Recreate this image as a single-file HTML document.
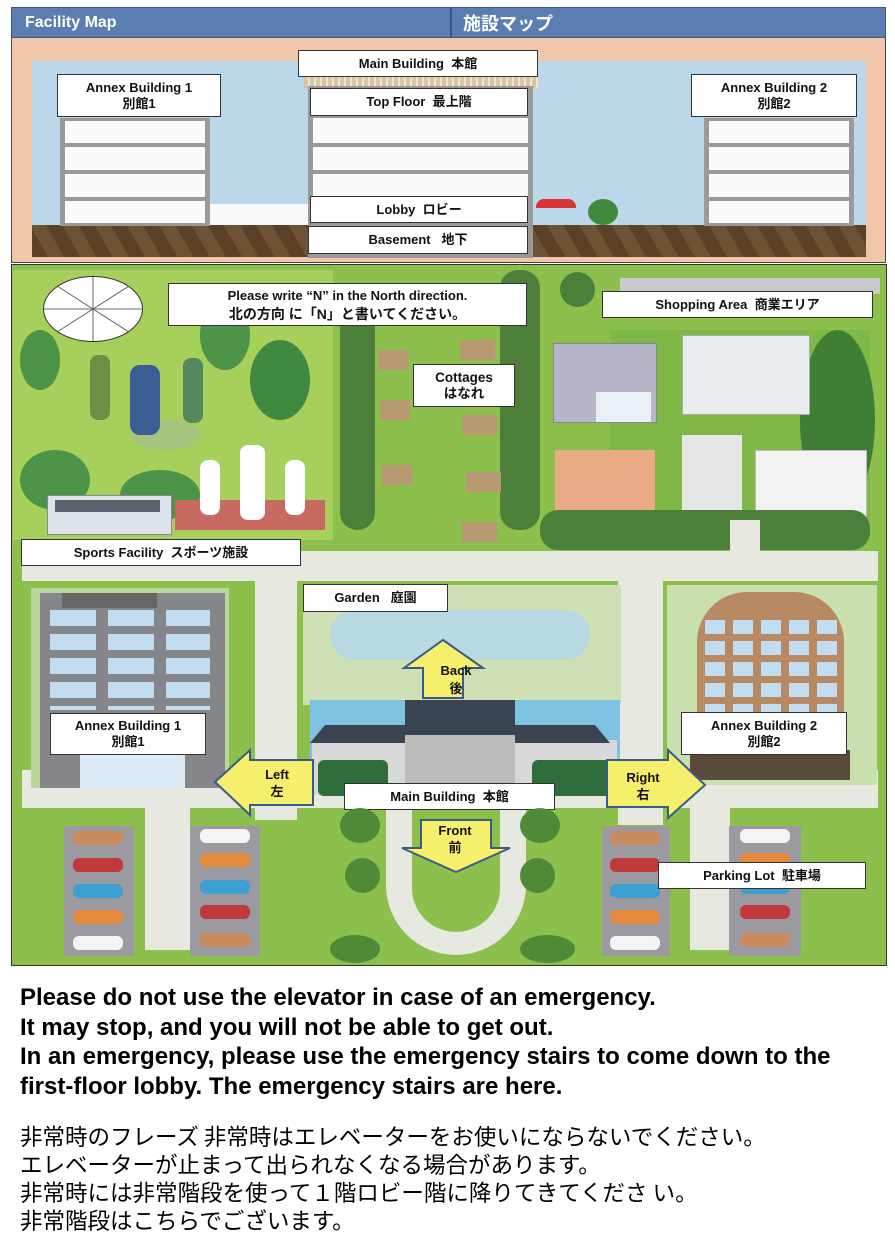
<!DOCTYPE html>
<html><head><meta charset="utf-8"><style>
*{margin:0;padding:0;box-sizing:border-box}
body{width:895px;height:1248px;background:#fff;position:relative;overflow:hidden;font-family:"Liberation Sans","Noto Sans CJK JP",sans-serif}
.a{position:absolute}
.lb{position:absolute;background:#fff;border:1.5px solid #333;font-weight:bold;font-size:13px;color:#111;display:flex;flex-direction:column;align-items:center;justify-content:center;line-height:16px;text-align:center;white-space:nowrap}
.fl{position:absolute;background:#fafafa;border:2px solid #999}
.tr{position:absolute;border-radius:50%;background:#4e8a3a}
.car{position:absolute;width:50px;height:14px;border-radius:6px}
.road{position:absolute;background:#e7e8df}
</style></head><body>
<!-- header -->
<div class="a" style="left:11px;top:7px;width:875px;height:31px;background:#5b7db1;border:1.5px solid #3d5580"></div>
<div class="a" style="left:450px;top:7px;width:1.5px;height:31px;background:#3d5580"></div>
<div class="a" style="left:25px;top:14px;color:#fff;font-weight:bold;font-size:16px">Facility Map</div>
<div class="a" style="left:463px;top:10px;color:#fff;font-weight:bold;font-size:18px">施設マップ</div>
<!-- top panel -->
<div class="a" style="left:11px;top:38px;width:875px;height:225px;background:#f1c6a9;border:1.5px solid #444;border-top:none"></div>
<div class="a" style="left:32px;top:61px;width:834px;height:170px;background:#bcd7ea"></div>
<div class="a" style="left:32px;top:225px;width:834px;height:32px;background:repeating-linear-gradient(60deg,#5a4128 0 14px,#6e5234 14px 28px)"></div>
<!-- annex 1 -->
<div class="a" style="left:60px;top:118px;width:150px;height:108px;background:#9a9a9a"></div>
<div class="fl" style="left:63px;top:119px;width:144px;height:26px"></div>
<div class="fl" style="left:63px;top:145px;width:144px;height:27px"></div>
<div class="fl" style="left:63px;top:172px;width:144px;height:27px"></div>
<div class="fl" style="left:63px;top:199px;width:144px;height:26px"></div>
<div class="a" style="left:210px;top:204px;width:98px;height:21px;background:#fafafa"></div>
<div class="lb" style="left:57px;top:74px;width:164px;height:43px">Annex Building 1<span>別館1</span></div>
<!-- main -->
<div class="a" style="left:304px;top:76px;width:234px;height:12px;background:repeating-linear-gradient(90deg,#d7c7a0 0 4px,#efe6cf 4px 6px)"></div>
<div class="a" style="left:308px;top:86px;width:225px;height:172px;background:#999"></div>
<div class="fl" style="left:311px;top:116px;width:219px;height:29px"></div>
<div class="fl" style="left:311px;top:145px;width:219px;height:27px"></div>
<div class="fl" style="left:311px;top:172px;width:219px;height:26px"></div>
<div class="lb" style="left:298px;top:50px;width:240px;height:27px">Main Building&nbsp;&nbsp;本館</div>
<div class="lb" style="left:310px;top:88px;width:218px;height:28px">Top Floor&nbsp;&nbsp;最上階</div>
<div class="lb" style="left:310px;top:196px;width:218px;height:27px">Lobby&nbsp;&nbsp;ロビー</div>
<div class="lb" style="left:308px;top:226px;width:220px;height:28px">Basement&nbsp;&nbsp;&nbsp;地下</div>
<div class="a" style="left:536px;top:199px;width:40px;height:9px;background:#d9333a;border-radius:8px 8px 0 0"></div>
<div class="tr" style="left:588px;top:199px;width:30px;height:26px;background:#3f8a3c"></div>
<!-- annex 2 -->
<div class="a" style="left:704px;top:118px;width:150px;height:108px;background:#9a9a9a"></div>
<div class="fl" style="left:707px;top:119px;width:144px;height:26px"></div>
<div class="fl" style="left:707px;top:145px;width:144px;height:27px"></div>
<div class="fl" style="left:707px;top:172px;width:144px;height:27px"></div>
<div class="fl" style="left:707px;top:199px;width:144px;height:26px"></div>
<div class="lb" style="left:691px;top:74px;width:166px;height:43px">Annex Building 2<span>別館2</span></div>

<!-- map -->
<div class="a" style="left:11px;top:264px;width:876px;height:702px;background:#8dbf4c;border:1.5px solid #333"></div>
<div class="a" style="left:13px;top:270px;width:320px;height:270px;background:#a6cf5c"></div>
<div class="a" style="left:610px;top:330px;width:260px;height:190px;background:#7fb847"></div>
<div class="tr" style="left:20px;top:330px;width:40px;height:60px;background:#4c9448"></div>
<div class="tr" style="left:200px;top:300px;width:50px;height:70px;background:#4c9448"></div>
<div class="tr" style="left:250px;top:340px;width:60px;height:80px;background:#3f8a40"></div>
<div class="tr" style="left:20px;top:450px;width:70px;height:60px;background:#4c9448"></div>
<div class="tr" style="left:120px;top:470px;width:80px;height:50px;background:#4c9448"></div>
<div class="tr" style="left:130px;top:420px;width:70px;height:30px;background:#a7c380"></div>
<div class="tr" style="left:800px;top:330px;width:75px;height:180px;background:#3e7f35"></div>
<div class="a" style="left:90px;top:355px;width:20px;height:65px;background:#6f8e45;border-radius:8px"></div>
<div class="a" style="left:130px;top:365px;width:30px;height:70px;background:#3c5e95;border-radius:10px"></div>
<div class="a" style="left:183px;top:358px;width:20px;height:65px;background:#56885e;border-radius:8px"></div>
<div class="a" style="left:175px;top:500px;width:150px;height:30px;background:#c96a62"></div>
<div class="a" style="left:200px;top:460px;width:20px;height:55px;background:#fff;border-radius:8px"></div>
<div class="a" style="left:240px;top:445px;width:25px;height:75px;background:#fff;border-radius:8px"></div>
<div class="a" style="left:285px;top:460px;width:20px;height:55px;background:#fff;border-radius:8px"></div>
<div class="a" style="left:47px;top:495px;width:125px;height:40px;background:#dce4ea;border:1px solid #889"></div>
<div class="a" style="left:55px;top:500px;width:105px;height:12px;background:#5a6470"></div>
<div class="a" style="left:43px;top:276px;width:100px;height:66px;border:1.5px solid #333;border-radius:50%;background:#fff;overflow:hidden">
<svg width="100" height="66" viewBox="0 0 100 66" style="position:absolute;left:-1px;top:-1px"><g stroke="#666" stroke-width="1"><line x1="50" y1="0" x2="50" y2="66"/><line x1="0" y1="33" x2="100" y2="33"/><line x1="14" y1="10" x2="86" y2="56"/><line x1="86" y1="10" x2="14" y2="56"/></g></svg></div>
<!-- cottage lanes trees -->
<div class="tr" style="left:340px;top:300px;width:35px;height:230px;background:#4b7f3a;border-radius:18px"></div>
<div class="tr" style="left:500px;top:270px;width:40px;height:260px;background:#4b7f3a;border-radius:18px"></div>
<div class="tr" style="left:560px;top:272px;width:35px;height:35px;background:#4b7f3a"></div>
<div class="lb" style="left:168px;top:283px;width:359px;height:43px;font-size:13px;line-height:18px">Please write “N” in the North direction.<span style="font-size:14px">北の方向 に「N」と書いてください。</span></div>
<div class="a" style="left:378px;top:350px;width:30px;height:20px;background:#b89a72"></div>
<div class="a" style="left:460px;top:340px;width:35px;height:20px;background:#b89a72"></div>
<div class="a" style="left:380px;top:400px;width:30px;height:20px;background:#b89a72"></div>
<div class="a" style="left:462px;top:415px;width:35px;height:20px;background:#b89a72"></div>
<div class="a" style="left:382px;top:465px;width:30px;height:20px;background:#b89a72"></div>
<div class="a" style="left:466px;top:472px;width:35px;height:20px;background:#b89a72"></div>
<div class="a" style="left:462px;top:522px;width:35px;height:20px;background:#b89a72"></div>
<div class="lb" style="left:413px;top:364px;width:102px;height:43px;font-size:13.5px">Cottages<span>はなれ</span></div>
<!-- shopping -->
<div class="a" style="left:620px;top:278px;width:260px;height:16px;background:#c9c9cf"></div>
<div class="lb" style="left:602px;top:291px;width:271px;height:27px">Shopping Area&nbsp;&nbsp;商業エリア</div>
<div class="a" style="left:553px;top:343px;width:104px;height:80px;background:#b9b5c8;border:1px solid #888"></div>
<div class="a" style="left:596px;top:392px;width:55px;height:30px;background:#e8f0f6"></div>
<div class="a" style="left:555px;top:450px;width:100px;height:70px;background:#e8ab86"></div>
<div class="a" style="left:682px;top:335px;width:128px;height:80px;background:#e9ecee;border:1px solid #aaa"></div>
<div class="a" style="left:682px;top:435px;width:60px;height:75px;background:#e4e6e8"></div>
<div class="a" style="left:755px;top:450px;width:112px;height:70px;background:#f2f2f2;border:1px solid #bbb"></div>
<div class="tr" style="left:540px;top:510px;width:330px;height:40px;background:#4b7f3a;border-radius:18px"></div>
<!-- roads -->
<div class="road" style="left:22px;top:551px;width:856px;height:30px"></div>
<div class="road" style="left:730px;top:520px;width:30px;height:35px"></div>
<div class="road" style="left:255px;top:575px;width:42px;height:245px"></div>
<div class="road" style="left:618px;top:575px;width:45px;height:250px"></div>
<div class="road" style="left:22px;top:770px;width:856px;height:38px"></div>
<div class="road" style="left:145px;top:800px;width:45px;height:150px"></div>
<div class="road" style="left:690px;top:800px;width:40px;height:150px"></div>
<div class="road" style="left:386px;top:800px;width:140px;height:155px;border-radius:0 0 70px 70px"></div>
<div class="a" style="left:412px;top:800px;width:88px;height:132px;background:#8dbf4c;border-radius:0 0 44px 44px"></div>
<div class="lb" style="left:21px;top:539px;width:280px;height:27px">Sports Facility&nbsp;&nbsp;スポーツ施設</div>
<!-- garden -->
<div class="a" style="left:303px;top:585px;width:318px;height:120px;background:#cfe0b4"></div>
<div class="a" style="left:330px;top:610px;width:260px;height:50px;background:#b8d8e2;border-radius:30px"></div>
<div class="lb" style="left:303px;top:584px;width:145px;height:28px">Garden&nbsp;&nbsp;&nbsp;庭園</div>
<!-- main building -->
<div class="a" style="left:310px;top:700px;width:310px;height:95px;background:#7ec2e4"></div>
<div class="a" style="left:312px;top:740px;width:305px;height:55px;background:#d8d8d8"></div>
<div class="a" style="left:310px;top:725px;width:300px;height:18px;background:#3a4450;clip-path:polygon(5% 0,95% 0,100% 100%,0 100%)"></div>
<div class="a" style="left:405px;top:700px;width:110px;height:40px;background:#3a4450"></div>
<div class="a" style="left:405px;top:735px;width:110px;height:60px;background:#bcbcbc"></div>
<div class="tr" style="left:318px;top:760px;width:70px;height:36px;background:#2f6e3a;border-radius:6px"></div>
<div class="tr" style="left:532px;top:760px;width:80px;height:36px;background:#2f6e3a;border-radius:6px"></div>
<!-- annex 1 map -->
<div class="a" style="left:31px;top:588px;width:198px;height:200px;background:#b9d69b"></div>
<div class="a" style="left:40px;top:593px;width:185px;height:195px;background:#85868a"></div>
<div class="a" style="left:62px;top:593px;width:95px;height:15px;background:#666"></div>
<div class="a" style="left:50px;top:610px;width:160px;height:100px;background:repeating-linear-gradient(90deg,#c2dcf0 0 46px,transparent 46px 58px),#85868a;-webkit-mask:repeating-linear-gradient(180deg,#000 0 16px,transparent 16px 24px);mask:repeating-linear-gradient(180deg,#000 0 16px,transparent 16px 24px)"></div>
<div class="a" style="left:80px;top:755px;width:105px;height:33px;background:#dceaf6"></div>
<div class="lb" style="left:50px;top:713px;width:156px;height:42px">Annex Building 1<span>別館1</span></div>
<!-- annex 2 map -->
<div class="a" style="left:667px;top:585px;width:210px;height:200px;background:#c9dfae"></div>
<div class="a" style="left:697px;top:592px;width:147px;height:185px;background:#b88a63;border-radius:50px 50px 0 0"></div>
<div class="a" style="left:705px;top:620px;width:132px;height:95px;background:repeating-linear-gradient(90deg,#c2dcf0 0 20px,transparent 20px 28px),#b88a63;-webkit-mask:repeating-linear-gradient(180deg,#000 0 14px,transparent 14px 21px);mask:repeating-linear-gradient(180deg,#000 0 14px,transparent 14px 21px)"></div>
<div class="a" style="left:690px;top:750px;width:160px;height:30px;background:#5a4a3c"></div>
<div class="lb" style="left:681px;top:712px;width:166px;height:43px">Annex Building 2<span>別館2</span></div>
<!-- arrows -->
<svg class="a" style="left:0;top:0" width="895" height="970">
<g fill="#f5ef6c" stroke="#3a5a8a" stroke-width="2">
<polygon points="423,698 423,668 404,668 443,640 483,668 463,668 463,698"/>
<polygon points="313,760 250,760 250,750 215,782 250,815 250,805 313,805"/>
<polygon points="607,760 668,760 668,750 705,785 668,818 668,807 607,807"/>
<polygon points="421,820 491,820 491,848 510,848 456,872 402,848 421,848"/>
</g>
<g font-family="Liberation Sans,Noto Sans CJK JP,sans-serif" font-weight="bold" font-size="13" text-anchor="middle" fill="#111">
<text x="456" y="675">Back</text><text x="456" y="693">後</text>
<text x="277" y="779">Left</text><text x="277" y="796">左</text>
<text x="643" y="782">Right</text><text x="643" y="799">右</text>
<text x="455" y="835">Front</text><text x="455" y="852">前</text>
</g></svg>
<div class="lb" style="left:344px;top:783px;width:211px;height:27px">Main Building&nbsp;&nbsp;本館</div>
<div class="tr" style="left:340px;top:808px;width:40px;height:35px;background:#4f8a38"></div>
<div class="tr" style="left:345px;top:858px;width:35px;height:35px;background:#4f8a38"></div>
<div class="tr" style="left:520px;top:808px;width:40px;height:35px;background:#4f8a38"></div>
<div class="tr" style="left:520px;top:858px;width:35px;height:35px;background:#4f8a38"></div>
<div class="tr" style="left:330px;top:935px;width:50px;height:28px;background:#4f8a38"></div>
<div class="tr" style="left:520px;top:935px;width:55px;height:28px;background:#4f8a38"></div>
<!-- parking -->
<div class="a" style="left:64px;top:826px;width:70px;height:130px;background:#9a9aa0"></div>
<div class="a" style="left:190px;top:826px;width:70px;height:130px;background:#9a9aa0"></div>
<div class="a" style="left:602px;top:826px;width:68px;height:130px;background:#9a9aa0"></div>
<div class="a" style="left:729px;top:826px;width:72px;height:130px;background:#9a9aa0"></div>
<div class="car" style="left:73px;top:831px;background:#c98a5e"></div>
<div class="car" style="left:73px;top:858px;background:#c0393d"></div>
<div class="car" style="left:73px;top:884px;background:#3ea0d0"></div>
<div class="car" style="left:73px;top:910px;background:#e68a3e"></div>
<div class="car" style="left:73px;top:936px;background:#f4f4f4"></div>
<div class="car" style="left:200px;top:829px;background:#f4f4f4"></div>
<div class="car" style="left:200px;top:853px;background:#e68a3e"></div>
<div class="car" style="left:200px;top:880px;background:#3ea0d0"></div>
<div class="car" style="left:200px;top:905px;background:#c0393d"></div>
<div class="car" style="left:200px;top:933px;background:#c98a5e"></div>
<div class="car" style="left:610px;top:831px;background:#c98a5e"></div>
<div class="car" style="left:610px;top:858px;background:#c0393d"></div>
<div class="car" style="left:610px;top:884px;background:#3ea0d0"></div>
<div class="car" style="left:610px;top:910px;background:#e68a3e"></div>
<div class="car" style="left:610px;top:936px;background:#f4f4f4"></div>
<div class="car" style="left:740px;top:829px;background:#f4f4f4"></div>
<div class="car" style="left:740px;top:853px;background:#e68a3e"></div>
<div class="car" style="left:740px;top:880px;background:#3ea0d0"></div>
<div class="car" style="left:740px;top:905px;background:#c0393d"></div>
<div class="car" style="left:740px;top:933px;background:#c98a5e"></div>
<div class="lb" style="left:658px;top:862px;width:208px;height:27px">Parking Lot&nbsp;&nbsp;駐車場</div>
<!-- bottom text -->
<div class="a" style="left:20px;top:983px;font-weight:bold;font-size:24px;line-height:29.5px;color:#000;white-space:nowrap">Please do not use the elevator in case of an emergency.<br>It may stop, and you will not be able to get out.<br>In an emergency, please use the emergency stairs to come down to the<br>first-floor lobby. The emergency stairs are here.</div>
<div class="a" style="left:20px;top:1122px;font-size:22.5px;line-height:28px;color:#000;white-space:nowrap;font-family:'Noto Sans CJK JP',sans-serif">非常時のフレーズ 非常時はエレベーターをお使いにならないでください。<br>エレベーターが止まって出られなくなる場合があります。<br>非常時には非常階段を使って１階ロビー階に降りてきてくださ い。<br>非常階段はこちらでございます。</div>
</body></html>
